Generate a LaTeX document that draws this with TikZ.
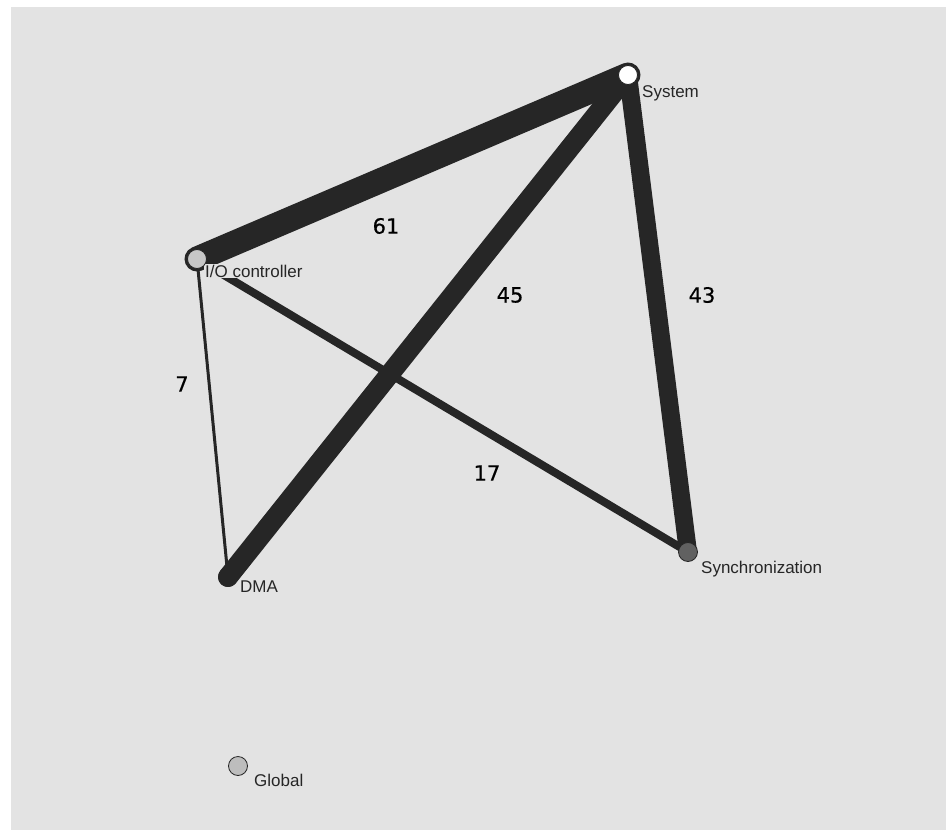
\documentclass[tikz,border=0pt]{standalone}
\usepackage{fontspec}
\setmainfont{Liberation Sans}
\newfontfamily\numfont[FakeBold=0.6]{DejaVu Sans}
\definecolor{bggray}{HTML}{E3E3E3}
\definecolor{edgecol}{HTML}{262626}
\begin{document}
\begin{tikzpicture}[x=1pt,y=-1pt,
  vert/.style={circle,draw=black!85,line width=0.8pt,minimum size=19pt,inner sep=0pt},
  link/.style={draw=edgecol,line cap=round},
  vlabel/.style={anchor=west,inner sep=1pt,fill=bggray,font=\fontsize{17}{17}\selectfont,text=black!85},
  wlabel/.style={inner sep=0pt,font=\numfont\fontsize{21}{21}\selectfont,text=black}]
\useasboundingbox (0,0) rectangle (946,830);
\fill[bggray] (11,7) rectangle (946,830);
\coordinate (sys) at (628,75);
\coordinate (io) at (197,259);
\coordinate (dma) at (228,577);
\coordinate (syn) at (688,552);
\coordinate (glo) at (238,766);
\draw[link,line width=25pt] (io) -- (sys);
\draw[link,line width=20pt] (dma) -- (sys);
\draw[link,line width=18pt] (syn) -- (sys);
\draw[link,line width=8pt] (io) -- (syn);
\draw[link,line width=3pt] (io) -- (dma);
\node[vlabel] (tsys) at (641,93) {System};
\node[vlabel] (tio) at (204,271) {I/O controller};
\node[vlabel] (tdma) at (239,587) {DMA};
\node[vlabel] (tsyn) at (700,569) {Synchronization};
\node[vlabel] (tglo) at (253,780) {Global};
\node[vert,fill=white] (System) at (sys) {};
\node[vert,fill=black!22] (IO) at (io) {};
\node[vert,fill=edgecol] (DMA) at (dma) {};
\node[vert,fill=black!62] (Sync) at (syn) {};
\node[vert,fill=black!26] (Global) at (glo) {};
\node[wlabel] (w61) at (386,226) {61};
\node[wlabel] (w45) at (510,295) {45};
\node[wlabel] (w43) at (702,295) {43};
\node[wlabel] (w17) at (487,473) {17};
\node[wlabel] (w7) at (182,384) {7};
\end{tikzpicture}
\end{document}
